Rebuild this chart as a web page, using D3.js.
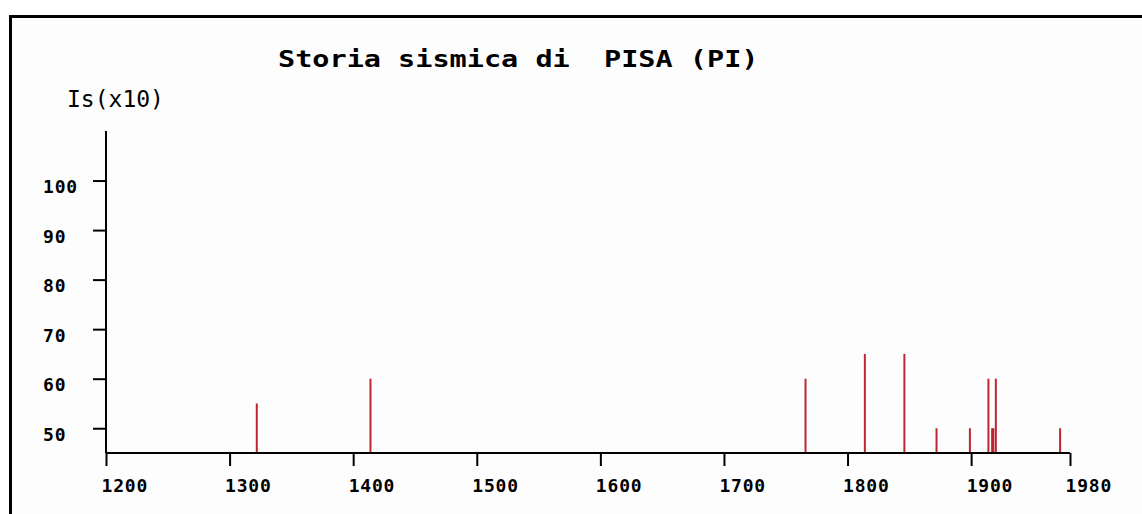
<!DOCTYPE html>
<html>
<head>
<meta charset="utf-8">
<script src="https://cdn.jsdelivr.net/npm/d3@7"></script>
<style>
  html, body { margin: 0; padding: 0; background: #ffffff; }
  svg { display: block; }
</style>
</head>
<body>
<svg id="chart" width="1142" height="514"></svg>
<script>
// ---- data ----
const years  = [1322, 1414, 1766, 1814, 1846, 1872, 1899, 1914, 1917, 1918, 1920, 1972];
const values = [55, 60, 60, 65, 65, 50, 50, 60, 50, 50, 60, 50];
const xTicks = [1200, 1300, 1400, 1500, 1600, 1700, 1800, 1900, 1980];
const yTicks = [50, 60, 70, 80, 90, 100];
const titleText = "Storia sismica di  PISA (PI)";
const yLabelText = "Is(x10)";

const svg = d3.select("#chart");

// frame
svg.append("rect").attr("x", 0).attr("y", 0).attr("width", 1142).attr("height", 514).attr("fill", "#ffffff");
svg.append("rect").attr("x", 12).attr("y", 18).attr("width", 1140).attr("height", 510).attr("fill", "#fdfdfd");
svg.append("line").attr("x1", 10.5).attr("x2", 10.5).attr("y1", 15).attr("y2", 514)
  .attr("stroke", "#000").attr("stroke-width", 3);
svg.append("line").attr("x1", 9).attr("x2", 1142).attr("y1", 16.5).attr("y2", 16.5)
  .attr("stroke", "#000").attr("stroke-width", 3);

const x = d3.scaleLinear().domain([1200, 1980]).range([106, 1070]);
const y = d3.scaleLinear().domain([45, 110]).range([453, 131]);

const mono = "'DejaVu Sans Mono', 'Liberation Mono', monospace";

// title (wide bitmap-like font: horizontally stretched bold mono)
svg.append("text")
  .attr("transform", "translate(278,67) scale(1.24,1)")
  .attr("x", 0).attr("y", 0)
  .attr("font-family", mono).attr("font-weight", "bold").attr("font-size", 23)
  .attr("fill", "#000")
  .style("white-space", "pre")
  .text(titleText);

// y label
svg.append("text")
  .attr("x", 67).attr("y", 107)
  .attr("font-family", mono).attr("font-size", 23)
  .attr("fill", "#000")
  .text(yLabelText);

// bars
svg.append("g").selectAll("line")
  .data(years.map((yr, i) => ({ yr, v: values[i] })))
  .join("line")
  .attr("x1", d => x(d.yr)).attr("x2", d => x(d.yr))
  .attr("y1", y(45)).attr("y2", d => y(d.v))
  .attr("stroke", "#bb2630").attr("stroke-width", 2);

// x axis
const xAxis = d3.axisBottom(x).tickValues(xTicks).tickSize(13).tickFormat(d3.format("d"));
const gx = svg.append("g").attr("transform", `translate(0,${y(45)})`).call(xAxis);
gx.select(".domain").attr("d", `M${x(1200)},0H${x(1980)}`).attr("stroke", "#000").attr("stroke-width", 2);
gx.selectAll(".tick line").attr("stroke", "#000").attr("stroke-width", 2);
gx.selectAll(".tick text")
  .attr("font-family", mono).attr("font-weight", "bold").attr("font-size", 18)
  .attr("letter-spacing", 0.8)
  .attr("fill", "#000")
  .attr("text-anchor", "start")
  .attr("x", -5).attr("y", 26).attr("dy", "0.71em");

// y axis
const yAxis = d3.axisLeft(y).tickValues(yTicks).tickSize(13).tickFormat(d3.format("d"));
const gy = svg.append("g").attr("transform", `translate(${x(1200)},0)`).call(yAxis);
gy.select(".domain").attr("d", `M0,${y(110)}V${y(45)}`).attr("stroke", "#000").attr("stroke-width", 2);
gy.selectAll(".tick line").attr("stroke", "#000").attr("stroke-width", 2);
gy.selectAll(".tick text")
  .attr("font-family", mono).attr("font-weight", "bold").attr("font-size", 18)
  .attr("letter-spacing", 0.8)
  .attr("fill", "#000")
  .attr("text-anchor", "start")
  .attr("x", -63).attr("dy", null).attr("y", 12);
</script>
</body>
</html>
